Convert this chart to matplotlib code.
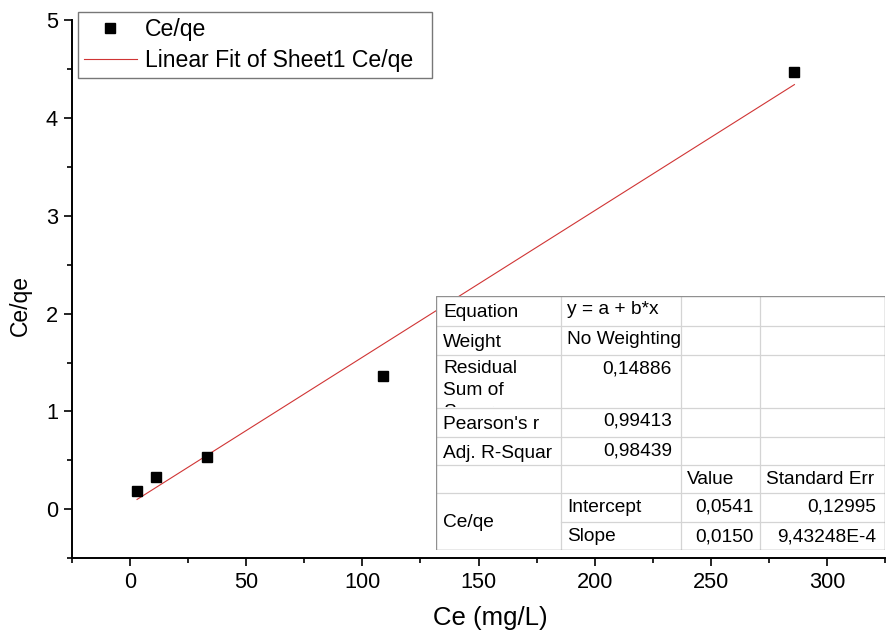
import matplotlib
matplotlib.use('Agg')
import matplotlib.pyplot as plt
from matplotlib.patches import Rectangle
from matplotlib.ticker import MultipleLocator
from matplotlib.transforms import Bbox, TransformedBbox
import numpy as np

# Data
ce = [3, 11, 33, 109, 286]
ce_qe = [0.19, 0.33, 0.53, 1.36, 4.47]
intercept = 0.0541
slope = 0.0150

# fit report table (text only)
row_labels = ['Equation', 'Weight', 'Residual\nSum of\nSquares', "Pearson's r", 'Adj. R-Squar']
row_values = ['y = a + b*x', 'No Weighting', '0,14886', '0,99413', '0,98439']
param_names = ['Intercept', 'Slope']
param_values = ['0,0541', '0,0150']
param_errors = ['0,12995', '9,43248E-4']

plt.rcParams['font.family'] = ['Liberation Sans', 'DejaVu Sans']

W, H = 888, 634
fig = plt.figure(figsize=(W / 100, H / 100), dpi=100)
ax = fig.add_axes([72 / W, 1 - 558 / H, (885 - 72) / W, (558 - 20.5) / H])

ax.plot(ce, ce_qe, 's', color='black', markersize=7.2, label='Ce/qe', zorder=3)
xfit = np.array([min(ce), max(ce)])
ax.plot(xfit, intercept + slope * xfit, '-', color='#d03535', lw=0.8,
        label='Linear Fit of Sheet1 Ce/qe', zorder=2)

ax.set_xlim(-25, 325)
ax.set_ylim(-0.5, 5)
ax.xaxis.set_major_locator(MultipleLocator(50))
ax.xaxis.set_minor_locator(MultipleLocator(25))
ax.yaxis.set_major_locator(MultipleLocator(1))
ax.yaxis.set_minor_locator(MultipleLocator(0.5))
for s in ['top', 'right']:
    ax.spines[s].set_visible(False)
for s in ['left', 'bottom']:
    ax.spines[s].set_linewidth(1.4)
ax.tick_params(which='major', direction='out', length=6, width=1.2, labelsize=15.7, pad=4)
ax.tick_params(which='minor', direction='out', length=3.8, width=1.2)

ax.set_xlabel('Ce (mg/L)', fontsize=18.5)
ax.set_ylabel('Ce/qe', fontsize=16.5)
ax.xaxis.set_label_coords((490 - 72) / 813, (558 - 618) / 537.5)
ax.xaxis.label.set_va('center')
ax.yaxis.set_label_coords((20 - 72) / 813, (558 - 306) / 537.5)
ax.yaxis.label.set_va('center')

leg = ax.legend(loc='upper left',
                bbox_to_anchor=(78 / W, 1 - 71 / H, (432 - 78) / W, (71 - 12) / H),
                bbox_transform=fig.transFigure, mode='expand', fontsize=16.6,
                frameon=True, fancybox=False, borderpad=0.25, labelspacing=0.36,
                handlelength=2.3, handletextpad=0.34, borderaxespad=0)
leg.get_frame().set_edgecolor('#555555')
leg.get_frame().set_linewidth(1.0)

# fit report table drawn in pixel units on an overlay axes
tx0, ty0, tx1, ty1 = 436, 296, 885, 550
tab = fig.add_axes([tx0 / W, 1 - ty1 / H, (tx1 - tx0) / W, (ty1 - ty0) / H])
tab.set_xlim(0, tx1 - tx0)
tab.set_ylim(ty1 - ty0, 0)
tab.axis('off')
tab.add_patch(Rectangle((0, 0), tx1 - tx0, ty1 - ty0, facecolor='white',
                        edgecolor='none', zorder=0))
cols = [0, 125, 245, 324, 449]
rows = [0, 30, 59, 112, 141, 169, 197, 226, 254]
grid_c = '#d4d4d4'
for yv in rows[1:-1]:
    x_start = cols[1] if yv == 226 else 0
    tab.plot([x_start, cols[-1]], [yv, yv], color=grid_c, lw=0.9)
for xv in cols[1:-1]:
    tab.plot([xv, xv], [0, rows[-1]], color=grid_c, lw=0.9)
tab.add_patch(Rectangle((0, 0), cols[-1], rows[-1], facecolor='none',
                        edgecolor='#909090', lw=1.0, zorder=3))

fs = 13.8
for i, (lab, val) in enumerate(zip(row_labels, row_values)):
    top = rows[i]
    if '\n' in lab:
        # long label is cut off by the cell, as in the original report
        cell = TransformedBbox(Bbox([[0, rows[i]], [cols[1], rows[i + 1] - 1]]),
                               tab.transData)
        for k, part in enumerate(lab.split('\n')):
            t = tab.text(7, top + 18 + 22 * k, part, fontsize=fs, va='baseline', ha='left')
            t.set_clip_box(cell)
            t.set_clip_on(True)
    else:
        tab.text(7, top + 21, lab, fontsize=fs, va='baseline', ha='left')
    if val[0].isdigit():
        tab.text(cols[2] - 9, top + 18, val, fontsize=fs, va='baseline', ha='right')
    else:
        tab.text(cols[1] + 6, top + 18, val, fontsize=fs, va='baseline', ha='left')

tab.text(cols[2] + 6, rows[5] + 19, 'Value', fontsize=fs, va='baseline', ha='left')
tab.text(cols[3] + 6, rows[5] + 19, 'Standard Err', fontsize=fs, va='baseline', ha='left')
tab.text(7, (rows[6] + rows[8]) / 2 + 1, 'Ce/qe', fontsize=fs, va='center', ha='left')
for j, (pn, pv, pe) in enumerate(zip(param_names, param_values, param_errors)):
    top = rows[6 + j]
    tab.text(cols[1] + 6, top + 19, pn, fontsize=fs, va='baseline', ha='left')
    tab.text(cols[3] - 6, top + 19, pv, fontsize=fs, va='baseline', ha='right')
    tab.text(cols[4] - 9, top + 19, pe, fontsize=fs, va='baseline', ha='right')

fig.savefig('out.png', dpi=100)
